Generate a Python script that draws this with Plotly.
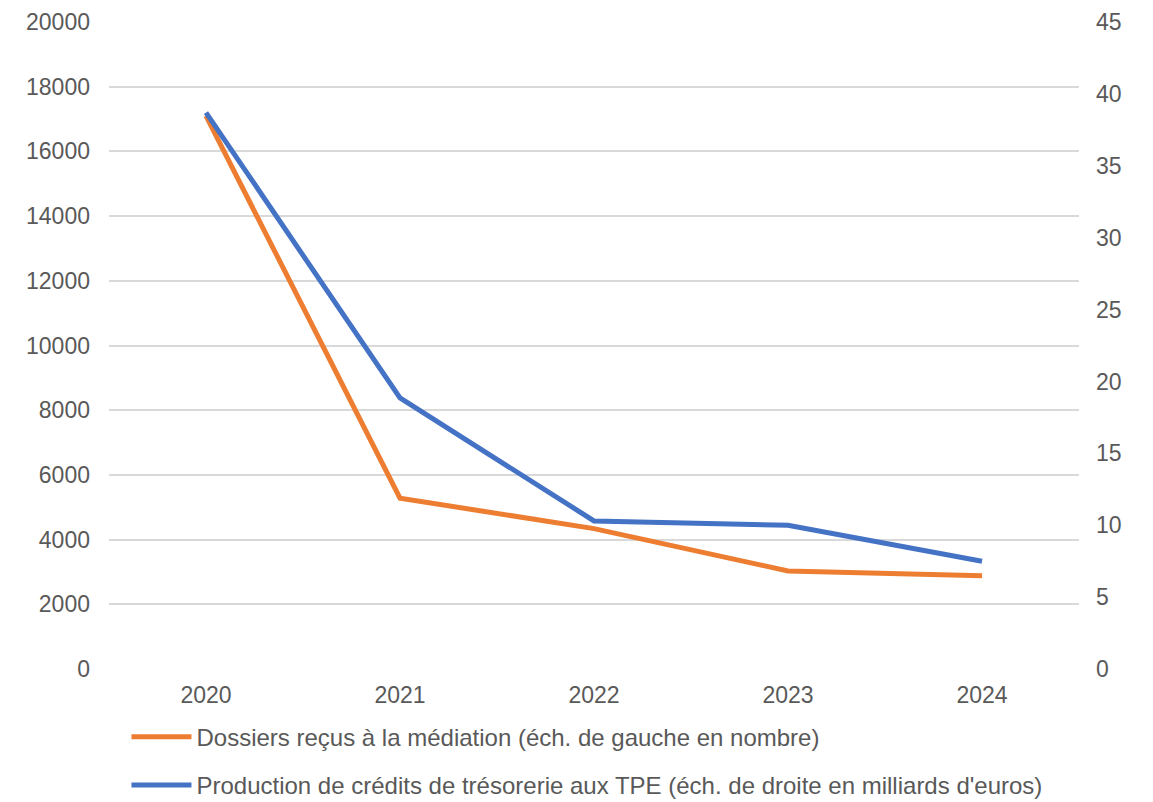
import plotly.graph_objects as go

years = ["2020", "2021", "2022", "2023", "2024"]
dossiers_recus = [17100, 5280, 4340, 3030, 2880]
credits_tpe = [38.7, 18.85, 10.3, 10.0, 7.5]

left_ticks = list(range(0, 20001, 2000))
right_ticks = list(range(0, 46, 5))

orange = "#ED7D31"
blue = "#4472C4"
grey_text = "#595959"
grid = "#D9D9D9"
family = "Liberation Sans, Arial, sans-serif"

fig = go.Figure()
fig.add_trace(go.Scatter(
    x=years, y=dossiers_recus, mode="lines",
    name="Dossiers reçus à la médiation (éch. de gauche en nombre)",
    line=dict(color=orange, width=5), legendgroup="a",
))
fig.add_trace(go.Scatter(
    x=years, y=credits_tpe, mode="lines", yaxis="y2",
    name="Production de crédits de trésorerie aux TPE (éch. de droite en milliards d'euros)",
    line=dict(color=blue, width=5), legendgroup="b",
))

fig.update_layout(
    width=1153, height=802,
    margin=dict(l=109, r=74, t=22, b=133, autoexpand=False),
    paper_bgcolor="white", plot_bgcolor="white",
    font=dict(family=family, size=23, color=grey_text),
    xaxis=dict(
        type="category", range=[-0.5, 4.5], showgrid=False, zeroline=False,
        showline=False, ticks="", ticklabelstandoff=10,
    ),
    yaxis=dict(
        range=[0, 20000], tickvals=left_ticks, tickformat="d", showgrid=True,
        gridcolor=grid, gridwidth=1.5, zeroline=False, showline=False,
        ticklabelstandoff=18,
    ),
    yaxis2=dict(
        range=[0, 45], tickvals=right_ticks, overlaying="y", side="right",
        showgrid=False, zeroline=False, showline=False, ticklabelstandoff=16,
    ),
    legend=dict(
        x=0.018, y=-0.0705, xanchor="left", yanchor="top",
        orientation="v", traceorder="grouped", tracegroupgap=14,
        font=dict(family=family, size=24, color=grey_text),
        itemwidth=60, bgcolor="rgba(0,0,0,0)",
    ),
    showlegend=True,
)

fig.write_html("out.html")
